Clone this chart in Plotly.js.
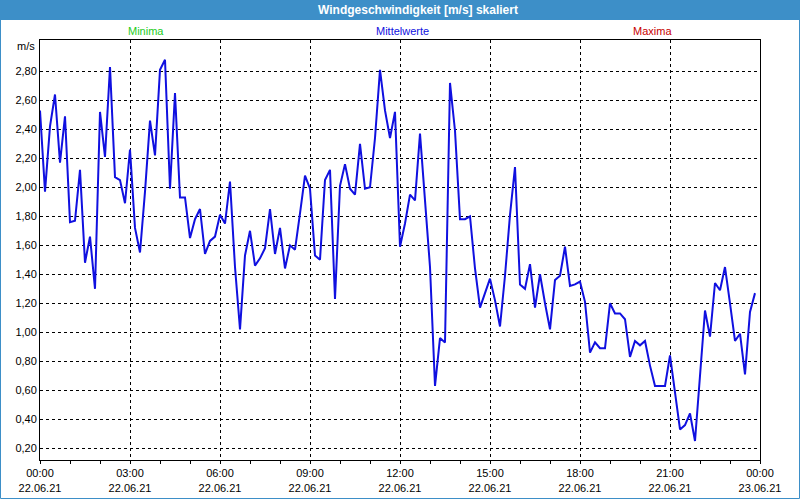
<!DOCTYPE html>
<html>
<head>
<meta charset="utf-8">
<script src="https://cdn.plot.ly/plotly-3.0.1.min.js"></script>
<style>
  html, body { margin: 0; padding: 0; background: #fff; }
  #chart { width: 800px; height: 500px; }
</style>
</head>
<body>
<div id="chart"></div>
<script>
// Windgeschwindigkeit, 10-Minuten-Mittelwerte vom 22.06.21

const startTime = '2021-06-22T00:00:00';
const stepMinutes = 10;

// values, 00:00 .. 23:50
const meanValues = [
    2.53, 1.97, 2.42, 2.64, 2.17, 2.49, 1.76, 1.77, 2.12, 1.48, 1.66, 1.30,
    2.52, 2.21, 2.83, 2.07, 2.05, 1.89, 2.26, 1.72, 1.55, 1.97, 2.46, 2.22,
    2.81, 2.88, 1.99, 2.65, 1.93, 1.93, 1.65, 1.78, 1.85, 1.54, 1.63, 1.66,
    1.81, 1.75, 2.04, 1.45, 1.02, 1.53, 1.70, 1.46, 1.51, 1.58, 1.85, 1.54,
    1.72, 1.44, 1.60, 1.57, 1.82, 2.08, 1.99, 1.53, 1.50, 2.05, 2.12, 1.23,
    2.01, 2.16, 1.99, 1.95, 2.30, 1.99, 2.00, 2.34, 2.81, 2.53, 2.34, 2.52,
    1.59, 1.75, 1.95, 1.91, 2.37, 1.88, 1.45, 0.63, 0.96, 0.93, 2.72, 2.39,
    1.78, 1.78, 1.80, 1.44, 1.17, 1.27, 1.37, 1.22, 1.04, 1.39, 1.81, 2.14,
    1.33, 1.30, 1.47, 1.17, 1.40, 1.20, 1.02, 1.36, 1.39, 1.59, 1.32, 1.33,
    1.35, 1.21, 0.86, 0.93, 0.89, 0.89, 1.20, 1.13, 1.13, 1.09, 0.83, 0.94,
    0.91, 0.94, 0.77, 0.63, 0.63, 0.63, 0.84, 0.60, 0.33, 0.36, 0.44, 0.25,
    0.70, 1.15, 0.97, 1.34, 1.29, 1.45, 1.20, 0.94, 0.99, 0.71, 1.14, 1.27
];

const xTickVals = [
    '2021-06-22 00:00', '2021-06-22 03:00', '2021-06-22 06:00',
    '2021-06-22 09:00', '2021-06-22 12:00', '2021-06-22 15:00',
    '2021-06-22 18:00', '2021-06-22 21:00', '2021-06-23 00:00'
];
const xTickText = [
    '00:00<br>22.06.21', '03:00<br>22.06.21', '06:00<br>22.06.21',
    '09:00<br>22.06.21', '12:00<br>22.06.21', '15:00<br>22.06.21',
    '18:00<br>22.06.21', '21:00<br>22.06.21', '00:00<br>23.06.21'
];
const yTickVals = [0.2, 0.4, 0.6, 0.8, 1.0, 1.2, 1.4, 1.6, 1.8, 2.0, 2.2, 2.4, 2.6, 2.8];

const seriesLabels = ['Minima', 'Mittelwerte', 'Maxima'];
const seriesColors = ['#1ccc1c', '#1010e0', '#c80000'];

const chartTitle = 'Windgeschwindigkeit [m/s] skaliert';
const unitLabel = 'm/s';

// build timestamps for the samples
function pad(n) { return (n < 10 ? '0' : '') + n; }
const sampleTimes = meanValues.map((_, i) => {
    const d = new Date(startTime);
    d.setMinutes(d.getMinutes() + i * stepMinutes);
    return d.getFullYear() + '-' + pad(d.getMonth() + 1) + '-' + pad(d.getDate()) +
        ' ' + pad(d.getHours()) + ':' + pad(d.getMinutes());
});

// plot area in pixels
const W = 800, H = 500;
const M = { l: 40, r: 40, t: 40, b: 40 };
const plotW = W - M.l - M.r, plotH = H - M.t - M.b;
const px = x => (x - M.l) / plotW;
const py = y => (H - M.b - y) / plotH;

const FONT = 'Liberation Sans, Arial, sans-serif';
const frameBlue = '#3d8fc8';

const trace = {
    x: sampleTimes,
    y: meanValues,
    type: 'scatter',
    mode: 'lines',
    line: { color: seriesColors[1], width: 2 },
    hoverinfo: 'skip'
};

const annotations = [
    {
        text: chartTitle, xref: 'paper', yref: 'paper', x: px(418), y: py(10),
        xanchor: 'center', yanchor: 'middle',
        showarrow: false, font: { family: FONT, size: 12, color: '#ffffff', weight: 'bold' }
    },
    {
        text: unitLabel, xref: 'paper', yref: 'paper', x: px(37), y: py(46),
        xanchor: 'right', yanchor: 'middle',
        showarrow: false, font: { family: FONT, size: 11, color: '#000' }
    }
];
const labelX = [146, 402, 652];
seriesLabels.forEach((lbl, i) => {
    annotations.push({
        text: lbl, xref: 'paper', yref: 'paper', x: px(labelX[i]), y: py(31),
        xanchor: 'center', yanchor: 'middle',
        showarrow: false, font: { family: FONT, size: 11, color: seriesColors[i] }
    });
});

const layout = {
    width: W,
    height: H,
    margin: M,
    paper_bgcolor: '#ffffff',
    plot_bgcolor: '#ffffff',
    showlegend: false,
    hovermode: false,
    separators: ',.',
    font: { family: FONT, size: 11, color: '#000' },
    xaxis: {
        type: 'date',
        range: ['2021-06-22 00:00', '2021-06-23 00:00'],
        tickmode: 'array',
        tickvals: xTickVals,
        ticktext: xTickText,
        ticks: 'outside',
        ticklen: 3,
        tickcolor: '#000',
        showgrid: true,
        gridcolor: '#000',
        gridwidth: 1,
        griddash: '3px,3px',
        minor: { dtick: 3600000, tick0: '2021-06-22 00:00', ticks: 'outside', ticklen: 3, tickcolor: '#000', showgrid: false },
        showline: true,
        linecolor: '#000',
        linewidth: 1,
        mirror: true,
        zeroline: false,
        fixedrange: true
    },
    yaxis: {
        range: [0.119, 3.016],
        tickmode: 'array',
        tickvals: yTickVals,
        tickformat: '.2f',
        ticks: '',
        showgrid: true,
        gridcolor: '#000',
        gridwidth: 1,
        griddash: '3px,3px',
        showline: true,
        linecolor: '#000',
        linewidth: 1,
        mirror: true,
        zeroline: false,
        fixedrange: true
    },
    shapes: [
        // title band
        {
            type: 'rect', xref: 'paper', yref: 'paper', layer: 'below',
            x0: px(0), x1: px(W), y0: py(0), y1: py(20),
            fillcolor: frameBlue, line: { width: 0 }
        },
        // thin outer frame
        {
            type: 'rect', xref: 'paper', yref: 'paper', layer: 'below',
            x0: px(0.5), x1: px(W - 0.5), y0: py(0.5), y1: py(H - 1.5),
            line: { color: frameBlue, width: 1 }
        }
    ],
    annotations: annotations
};

Plotly.newPlot('chart', [trace], layout, { displayModeBar: false, staticPlot: true });
</script>
</body>
</html>
